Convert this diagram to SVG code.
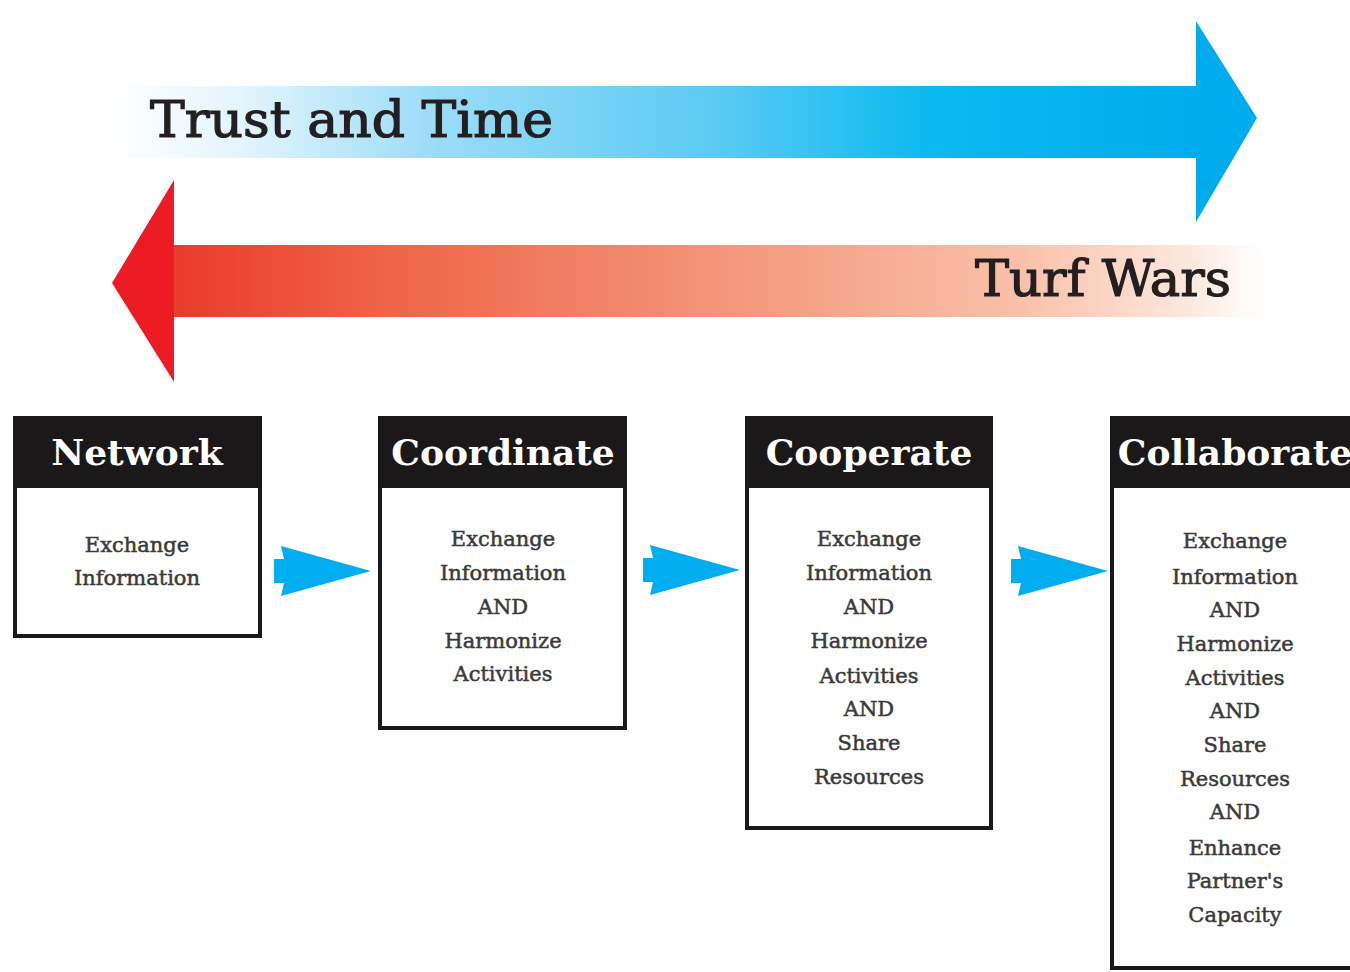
<svg xmlns="http://www.w3.org/2000/svg" width="1350" height="972" viewBox="0 0 1350 972">
<defs>
<linearGradient id="gBlue" x1="110" y1="0" x2="1200" y2="0" gradientUnits="userSpaceOnUse">
<stop offset="0" stop-color="#ffffff"/>
<stop offset="0.12" stop-color="#e3f5fd"/>
<stop offset="0.3" stop-color="#9adcf7"/>
<stop offset="0.55" stop-color="#5ccbf3"/>
<stop offset="0.75" stop-color="#0bbaf0"/>
<stop offset="1" stop-color="#00acec"/>
</linearGradient>
<linearGradient id="gRed" x1="174" y1="0" x2="1262" y2="0" gradientUnits="userSpaceOnUse">
<stop offset="0" stop-color="#ea3b2c"/>
<stop offset="0.2" stop-color="#ef6547"/>
<stop offset="0.5" stop-color="#f3957a"/>
<stop offset="0.78" stop-color="#f9c1aa"/>
<stop offset="0.93" stop-color="#fde7dc"/>
<stop offset="1" stop-color="#ffffff"/>
</linearGradient>
<polygon id="chev" points="-90,-25 0,0 -90,25 -87,12 -97,12 -97,-12 -87,-12" fill="#00aeef"/>
</defs>
<style>
.big{font-family:"DejaVu Serif","Liberation Serif",serif;font-size:50px;fill:#231f20;stroke:#231f20;stroke-width:1.2px;}
.hd{font-family:"DejaVu Serif","Liberation Serif",serif;font-weight:bold;font-size:36px;fill:#ffffff;text-anchor:middle;}
.bd{font-family:"DejaVu Serif","Liberation Serif",serif;font-size:21px;fill:#3a3a3a;stroke:#3a3a3a;stroke-width:0.5px;text-anchor:middle;}
.box{fill:#ffffff;stroke:#1a1818;stroke-width:4;}
.hdr{fill:#1a1818;}
</style>
<rect width="1350" height="972" fill="#ffffff"/>
<g id="trust-arrow">
<rect x="110" y="86" width="1088" height="72" fill="url(#gBlue)"/>
<polygon points="1196,21 1257,118 1196,222" fill="#00acec"/>
<text class="big" x="150" y="137" textLength="403" lengthAdjust="spacingAndGlyphs">Trust and Time</text>
</g>
<g id="turf-arrow">
<rect x="172" y="245" width="1090" height="72" fill="url(#gRed)"/>
<polygon points="174,180 112,283 174,382" fill="#ed1c24"/>
<text class="big" x="975" y="296" textLength="256" lengthAdjust="spacingAndGlyphs">Turf Wars</text>
</g>
<g id="network">
<rect class="box" x="15" y="418" width="245" height="218"/>
<rect class="hdr" x="13" y="416" width="249" height="72"/>
<text class="hd" x="137" y="465">Network</text>
<text class="bd" x="137" y="552">Exchange</text>
<text class="bd" x="137" y="585">Information</text>
</g>
<g id="coordinate">
<rect class="box" x="380" y="418" width="245" height="310"/>
<rect class="hdr" x="378" y="416" width="249" height="72"/>
<text class="hd" x="503" y="465">Coordinate</text>
<text class="bd" x="503" y="546">Exchange</text>
<text class="bd" x="503" y="580">Information</text>
<text class="bd" x="503" y="614">AND</text>
<text class="bd" x="503" y="648">Harmonize</text>
<text class="bd" x="503" y="681">Activities</text>
</g>
<g id="cooperate">
<rect class="box" x="747" y="418" width="244" height="410"/>
<rect class="hdr" x="745" y="416" width="248" height="72"/>
<text class="hd" x="869" y="465">Cooperate</text>
<text class="bd" x="869" y="546">Exchange</text>
<text class="bd" x="869" y="580">Information</text>
<text class="bd" x="869" y="614">AND</text>
<text class="bd" x="869" y="648">Harmonize</text>
<text class="bd" x="869" y="683">Activities</text>
<text class="bd" x="869" y="716">AND</text>
<text class="bd" x="869" y="750">Share</text>
<text class="bd" x="869" y="784">Resources</text>
</g>
<g id="collaborate">
<rect class="box" x="1112" y="418" width="260" height="550"/>
<rect class="hdr" x="1110" y="416" width="260" height="72"/>
<text class="hd" x="1235" y="465">Collaborate</text>
<text class="bd" x="1235" y="548">Exchange</text>
<text class="bd" x="1235" y="584">Information</text>
<text class="bd" x="1235" y="617">AND</text>
<text class="bd" x="1235" y="651">Harmonize</text>
<text class="bd" x="1235" y="685">Activities</text>
<text class="bd" x="1235" y="718">AND</text>
<text class="bd" x="1235" y="752">Share</text>
<text class="bd" x="1235" y="786">Resources</text>
<text class="bd" x="1235" y="819">AND</text>
<text class="bd" x="1235" y="855">Enhance</text>
<text class="bd" x="1235" y="888">Partner's</text>
<text class="bd" x="1235" y="922">Capacity</text>
</g>
<g id="connectors">
<use href="#chev" transform="translate(371,571)"/>
<use href="#chev" transform="translate(740,570)"/>
<use href="#chev" transform="translate(1108,571)"/>
</g>
</svg>
